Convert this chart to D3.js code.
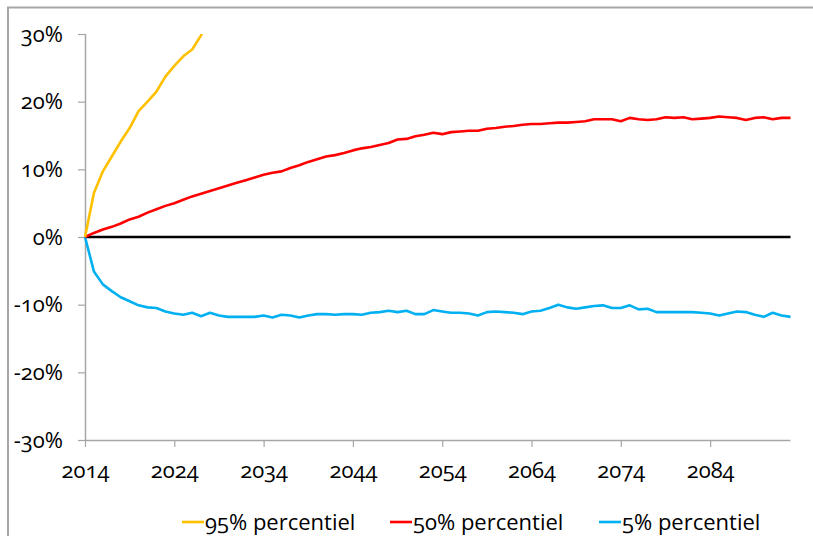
<!DOCTYPE html>
<html>
<head>
<meta charset="utf-8">
<script src="https://cdn.jsdelivr.net/npm/d3@7"></script>
<style>
  body { margin: 0; background: #fff; }
  svg text { font-family: "Open Sans", Lato, sans-serif; font-variant-numeric: oldstyle-nums; fill: #000; }
</style>
</head>
<body>
<svg id="chart" width="813" height="536"></svg>
<script>
// ****************************************
// Data

var years = d3.range(2014, 2094);
var tick_years = [2014, 2024, 2034, 2044, 2054, 2064, 2074, 2084];
var y_ticks = [-30, -20, -10, 0, 10, 20, 30];

var p95 = [0, 6.5, 9.7, 11.9, 14.1, 16.1, 18.6, 20.0, 21.5, 23.7, 25.3, 26.7, 27.7, 29.8, 33.5];

var p50 = [0, 0.6, 1.1, 1.5, 2.0, 2.6, 3.0, 3.6, 4.1, 4.6, 5.0, 5.5, 6.0, 6.4, 6.8, 7.2, 7.6, 8.0, 8.4, 8.8,
  9.2, 9.5, 9.7, 10.2, 10.6, 11.1, 11.5, 11.9, 12.1, 12.4, 12.8, 13.1, 13.3, 13.6, 13.9, 14.4, 14.5, 14.9, 15.1, 15.4,
  15.2, 15.5, 15.6, 15.7, 15.7, 16.0, 16.1, 16.3, 16.4, 16.6, 16.7, 16.7, 16.8, 16.9, 16.9, 17.0, 17.1, 17.4, 17.4, 17.4,
  17.1, 17.6, 17.4, 17.3, 17.4, 17.7, 17.6, 17.7, 17.4, 17.5, 17.6, 17.8, 17.7, 17.6, 17.3, 17.6, 17.7, 17.4, 17.6, 17.6];

var p5 = [0, -5.1, -7.0, -8.0, -8.9, -9.5, -10.1, -10.4, -10.5, -11.0, -11.3, -11.5, -11.2, -11.7, -11.2, -11.6, -11.8, -11.8, -11.8, -11.8,
  -11.6, -11.9, -11.5, -11.6, -11.9, -11.6, -11.4, -11.4, -11.5, -11.4, -11.4, -11.5, -11.2, -11.1, -10.9, -11.1, -10.9, -11.4, -11.4, -10.8,
  -11.0, -11.2, -11.2, -11.3, -11.6, -11.1, -11.0, -11.1, -11.2, -11.4, -11.0, -10.9, -10.5, -10.0, -10.4, -10.6, -10.4, -10.2, -10.1, -10.5,
  -10.5, -10.1, -10.7, -10.6, -11.1, -11.1, -11.1, -11.1, -11.1, -11.2, -11.3, -11.6, -11.3, -11.0, -11.1, -11.5, -11.8, -11.2, -11.6, -11.8];

var series = [
  { name: '95% percentiel', values: p95, color: '#ffc000' },
  { name: '50% percentiel', values: p50, color: '#ff0000' },
  { name: '5% percentiel', values: p5, color: '#00b0f0' }
];

// ****************************************
// Scales

var svg = d3.select('#chart');
var x = d3.scaleLinear().domain([2014, 2093]).range([85, 790.5]);
var y = d3.scaleLinear().domain([-30, 30]).range([440, 34]);

// frame
svg.append('rect').attr('x', 8).attr('y', 7.5).attr('width', 900).attr('height', 600)
  .attr('fill', 'none').attr('stroke', '#a6a6a6').attr('stroke-width', 2);

svg.append('clipPath').attr('id', 'clip').append('rect')
  .attr('x', 80).attr('y', 34).attr('width', 720).attr('height', 406);

// ****************************************
// Axes

var yAxis = svg.append('g').attr('transform', 'translate(85,0)')
  .call(d3.axisLeft(y).tickValues(y_ticks).tickSize(7).tickPadding(15).tickFormat(d => d + '%'));
var xAxis = svg.append('g').attr('transform', 'translate(0,440)')
  .call(d3.axisBottom(x).tickValues(tick_years).tickSize(7).tickPadding(15).tickFormat(d3.format('d')));

[yAxis, xAxis].forEach(g => {
  g.select('.domain').attr('stroke', '#a6a6a6').attr('stroke-width', 1.5);
  g.selectAll('.tick line').attr('stroke', '#a6a6a6').attr('stroke-width', 1.2);
  g.selectAll('text').style('font-size', '22px').attr('fill', '#000');
});
// x axis runs to end of plot
xAxis.select('.domain').attr('d', 'M85,0.5H790.5');
yAxis.select('.domain').attr('d', 'M0.5,34V440');

// zero line
svg.append('line').attr('x1', x(2014)).attr('x2', x(2093)).attr('y1', y(0)).attr('y2', y(0))
  .attr('stroke', '#000').attr('stroke-width', 2.6);

// ****************************************
// Lines

var line = d3.line().x((d, i) => x(years[i])).y(d => y(d));

var lines_group = svg.append('g').attr('clip-path', 'url(#clip)');
series.slice().reverse().forEach(s => {
  lines_group.append('path').datum(s.values).attr('d', line)
    .attr('fill', 'none').attr('stroke', s.color).attr('stroke-width', 2.6).attr('stroke-linejoin', 'round');
});

// ****************************************
// Legend

var legend_x = [182, 390, 599];
series.forEach((s, i) => {
  var g = svg.append('g').attr('transform', 'translate(' + legend_x[i] + ',522)');
  g.append('line').attr('x1', 0).attr('x2', 22).attr('y1', 0).attr('y2', 0)
    .attr('stroke', s.color).attr('stroke-width', 2.6);
  g.append('text').attr('x', 23).attr('y', 8).style('font-size', '22px').text(s.name);
});
</script>
</body>
</html>
